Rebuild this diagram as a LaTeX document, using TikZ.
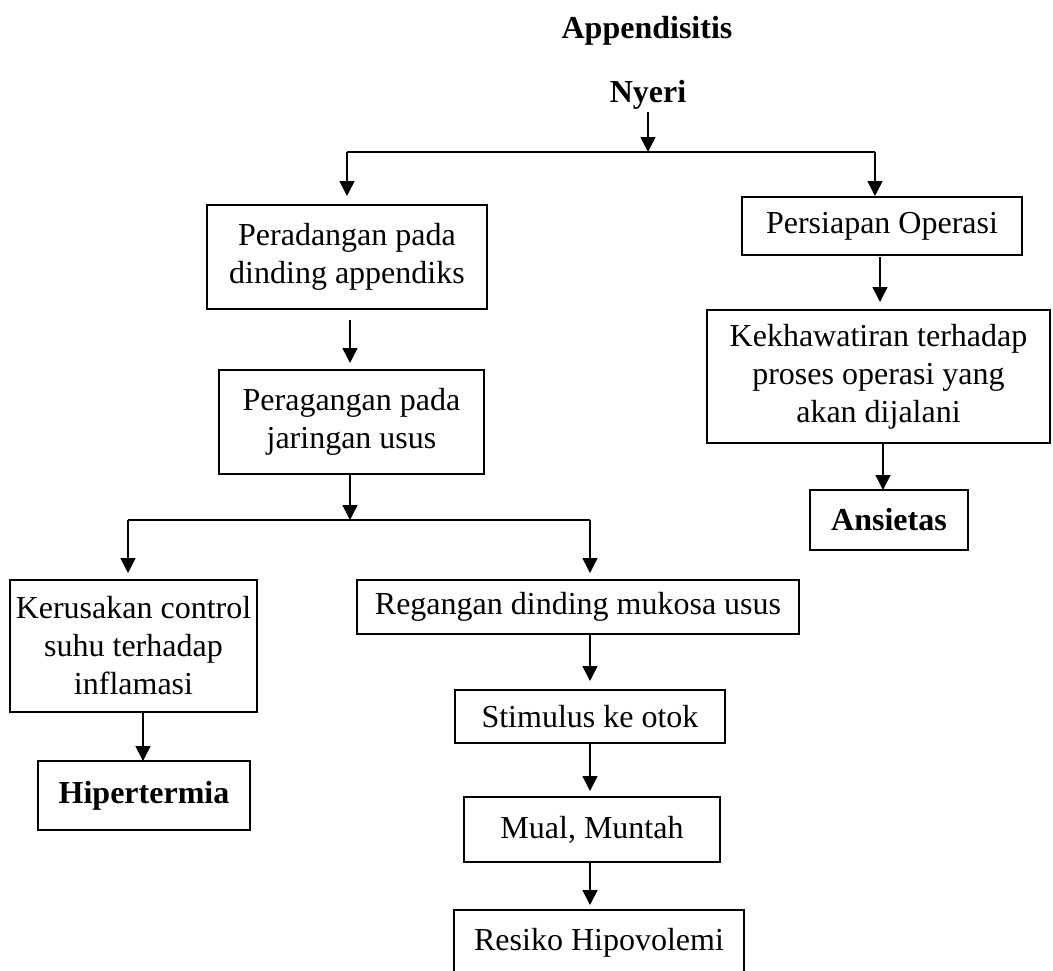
\documentclass[tikz,border=0pt]{standalone}
\usepackage{fontspec}
\setmainfont{Liberation Serif}
\usetikzlibrary{arrows.meta}
\begin{document}
\begin{tikzpicture}[x=1pt,y=-1pt,
  box/.style={draw,line width=1.3pt,align=center,inner sep=0pt,
    font=\fontsize{32}{38}\selectfont},
  bbox/.style={box,font=\fontsize{32}{38}\selectfont\bfseries},
  lbl/.style={align=center,inner sep=0pt,font=\fontsize{32}{38}\selectfont\bfseries},
  arr/.style={line width=1.5pt,-{Triangle[width=15pt,length=15pt]}},
  ln/.style={line width=1.5pt}]
\useasboundingbox (0,0) rectangle (1053,970);
\node[lbl,anchor=base] (app) at (647,38) {Appendisitis};
\node[lbl,anchor=base] (nyeri) at (648,102) {Nyeri};
\node[box,minimum width=280,minimum height=104] (pera) at (347,257) {Peradangan pada\\dinding appendiks};
\node[box,minimum width=280,minimum height=58] (pers) at (882,226) {Persiapan Operasi};
\node[box,minimum width=343,minimum height=133] (kekh) at (878.5,376.5) {Kekhawatiran terhadap\\proses operasi yang\\akan dijalani};
\node[bbox,minimum width=158,minimum height=60] (ansi) at (889,520) {Ansietas};
\node[box,minimum width=265,minimum height=104] (perg) at (351.5,422) {Peragangan pada\\jaringan usus};
\node[box,minimum width=247,minimum height=132] (keru) at (133.5,646) {Kerusakan control\\suhu terhadap\\inflamasi};
\node[box,minimum width=442,minimum height=54] (rega) at (578,607) {Regangan dinding mukosa usus};
\node[box,minimum width=270,minimum height=53] (stim) at (590,716.5) {Stimulus ke otok};
\node[box,minimum width=256,minimum height=65] (mual) at (592,829.5) {Mual, Muntah};
\node[box,minimum width=290,minimum height=65] (resi) at (599,942.5) {Resiko Hipovolemi};
\node[bbox,minimum width=212,minimum height=69] (hipe) at (144,795.5) {Hipertermia};
% branch 1
\coordinate (b1) at (648,152);
\coordinate (b1L) at (347,152);
\coordinate (b1R) at (875,152);
\draw[arr] (nyeri.south |- 0,112) -- (b1);
\draw[ln] (b1L) -- (b1R);
\draw[arr] (b1L) -- (347,196);
\draw[arr] (b1R) -- (875,196);
% right column
\draw[arr] (880,257) -- (880,302);
\draw[arr] (883,443) -- (883,490);
% left column
\draw[arr] (350,320) -- (350,363);
\coordinate (b2) at (350,520);
\coordinate (b2L) at (128,520);
\coordinate (b2R) at (590,520);
\draw[arr] (350,474) -- (b2);
\draw[ln] (b2L) -- (b2R);
\draw[arr] (b2L) -- (128,573);
\draw[arr] (b2R) -- (590,573);
\draw[arr] (590,634) -- (590,681);
\draw[arr] (590,743) -- (590,791);
\draw[arr] (590,862) -- (590,905);
\draw[arr] (143,712) -- (143,761);
\end{tikzpicture}
\end{document}
